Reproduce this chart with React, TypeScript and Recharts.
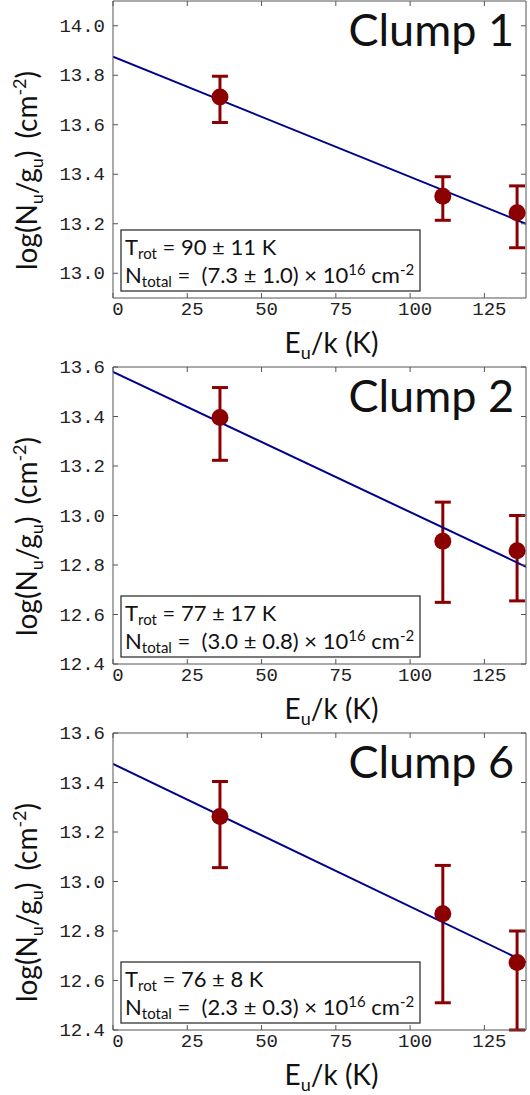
import React from "react";
import {
  ComposedChart,
  Scatter,
  Line,
  ErrorBar,
  XAxis,
  YAxis,
  Label,
} from "recharts";

// Upper-level energies (K) shared by all three clumps
const EU = [36, 111, 136];
const X_TICKS = [0, 25, 50, 75, 100, 125];
const X_MAX = 139;
const FIT_X = [0, 139];

// Clump 1
const CLUMP1_Y = [13.712, 13.311, 13.244];
const CLUMP1_LO = [0.103, 0.097, 0.141];
const CLUMP1_HI = [0.084, 0.079, 0.109];
const CLUMP1_FIT = [13.875, 13.2];
const CLUMP1_TICKS = [13.0, 13.2, 13.4, 13.6, 13.8, 14.0];

// Clump 2
const CLUMP2_Y = [13.396, 12.896, 12.858];
const CLUMP2_LO = [0.173, 0.247, 0.203];
const CLUMP2_HI = [0.121, 0.158, 0.142];
const CLUMP2_FIT = [13.58, 12.793];

// Clump 6
const CLUMP6_Y = [13.263, 12.87, 12.673];
const CLUMP6_LO = [0.207, 0.36, 0.273];
const CLUMP6_HI = [0.141, 0.195, 0.127];
const CLUMP6_FIT = [13.475, 12.674];

const LOW_TICKS = [12.4, 12.6, 12.8, 13.0, 13.2, 13.4, 13.6];

const FRAME = "#555";
const RED = "#8b0000";
const BLUE = "#00008b";
const MONO = "'Liberation Mono', 'DejaVu Sans Mono', monospace";
const SANS = "Lato, 'Open Sans', sans-serif";

const W = 530;
const H = 366; // vertical pitch between panels
const PAD_TOP = 14; // room above the plot so the top tick label is not cut
const CH = H + PAD_TOP;
const PLOT_H = 297;
// axes are 1px thick so that they get drawn; plot area = x 113..526
const MARGIN = { top: PAD_TOP, right: 3, bottom: CH - PAD_TOP - 1 - PLOT_H - 1, left: 112 };

const LeftTick = (p: any) => (
  <g>
    <line x1={p.x} y1={p.y} x2={p.x + 5} y2={p.y} stroke={FRAME} />
    <text x={p.x - 8} y={p.y + 6} textAnchor="end" fontFamily={MONO} fontSize={19} fill="#222">
      {Number(p.payload.value).toFixed(1)}
    </text>
  </g>
);

const RightTick = (p: any) => (
  <line x1={p.x} y1={p.y} x2={p.x - 5} y2={p.y} stroke={FRAME} />
);

const BottomTick = (p: any) => (
  <g>
    <line x1={p.x} y1={p.y} x2={p.x} y2={p.y - 5} stroke={FRAME} />
    <text x={p.x + 5} y={p.y + 17} textAnchor="middle" fontFamily={MONO} fontSize={19} fill="#222">
      {p.payload.value}
    </text>
  </g>
);

const TopTick = (p: any) => (
  <line x1={p.x} y1={p.y} x2={p.x} y2={p.y + 5} stroke={FRAME} />
);

const Dot = (p: any) => <circle cx={p.cx} cy={p.cy} r={8.5} fill={RED} />;

interface PanelProps {
  name: string;
  ys: number[];
  lo: number[];
  hi: number[];
  fit: number[];
  ticks: number[];
  pad: number;
  trot: string;
  ntot: string;
}

function Panel({ name, ys, lo, hi, fit, ticks, pad, trot, ntot }: PanelProps) {
  const points = EU.map((x, i) => ({ x, y: ys[i], err: [lo[i], hi[i]] }));
  const fitLine = FIT_X.map((x, i) => ({ x, y: fit[i] }));
  const domain: [number, number] = [ticks[0] - pad, ticks[ticks.length - 1] + pad];

  const yLabel = (props: any) => {
    const vb = props.viewBox;
    const cy = vb.y + vb.height / 2 + 21;
    return (
      <text
        transform={`translate(37, ${cy}) rotate(-90)`}
        textAnchor="middle"
        fontFamily={SANS}
        fontSize={28}
        fill="#111"
      >
        log(N<tspan fontSize={18} dy={6}>u</tspan>
        <tspan dy={-6}>/g</tspan>
        <tspan fontSize={18} dy={6}>u</tspan>
        <tspan dy={-6}>)</tspan>
        <tspan dx={12}>(cm</tspan>
        <tspan fontSize={18} dy={-11}>-2</tspan>
        <tspan dy={11}>)</tspan>
      </text>
    );
  };

  const xLabel = (props: any) => {
    const vb = props.viewBox;
    return (
      <text x={vb.x + vb.width / 2 + 12} y={vb.y + 55} textAnchor="middle" fontFamily={SANS} fontSize={28} fill="#111">
        E<tspan fontSize={18} dy={6}>u</tspan>
        <tspan dy={-6}>/k (K)</tspan>
      </text>
    );
  };

  const overlay = (props: any) => {
    const vb = props.viewBox;
    const left = vb.x;
    const right = vb.x + vb.width;
    const top = vb.y + vb.height;
    const bottom = top + PLOT_H;
    const boxTop = bottom - 68;
    return (
      <g>
        <text x={right - 12} y={top + 45} textAnchor="end" fontFamily={SANS} fontSize={45} fill="#111">
          {name}
        </text>
        <rect x={left + 8} y={boxTop} width={299} height={61} fill="#fff" stroke="#222" strokeWidth={1.2} />
        <text x={left + 12} y={boxTop + 25} fontFamily={SANS} fontSize={22} fill="#111">
          T<tspan fontSize={15} dy={4}>rot</tspan>
          <tspan dy={-4}> = {trot}</tspan>
        </text>
        <text x={left + 12} y={boxTop + 53} fontFamily={SANS} fontSize={22} fill="#111" style={{ whiteSpace: "pre" }}>
          N<tspan fontSize={15} dy={4}>total</tspan>
          <tspan dy={-4}>{" =  " + ntot + " × 10"}</tspan>
          <tspan fontSize={15} dy={-8}>16</tspan>
          <tspan dy={8}> cm</tspan>
          <tspan fontSize={15} dy={-8}>-2</tspan>
        </text>
      </g>
    );
  };

  return (
    <ComposedChart width={W} height={CH} margin={MARGIN}>
      <XAxis
        type="number"
        dataKey="x"
        domain={[0, X_MAX]}
        ticks={X_TICKS}
        allowDataOverflow
        height={1}
        tickSize={0}
        tickMargin={0}
        tickLine={false}
        tick={BottomTick}
        stroke={FRAME}
        interval={0}
      >
        <Label content={xLabel} />
      </XAxis>
      <XAxis
        xAxisId="top"
        orientation="top"
        type="number"
        dataKey="x"
        domain={[0, X_MAX]}
        ticks={X_TICKS}
        allowDataOverflow
        height={1}
        tickSize={0}
        tickMargin={0}
        tickLine={false}
        tick={TopTick}
        stroke={FRAME}
        interval={0}
      >
        <Label content={overlay} />
      </XAxis>
      <YAxis
        type="number"
        dataKey="y"
        domain={domain}
        ticks={ticks}
        allowDataOverflow
        width={1}
        tickSize={0}
        tickMargin={0}
        tickLine={false}
        tick={LeftTick}
        stroke={FRAME}
        interval={0}
      >
        <Label content={yLabel} />
      </YAxis>
      <YAxis
        yAxisId="right"
        orientation="right"
        type="number"
        domain={domain}
        ticks={ticks}
        allowDataOverflow
        width={1}
        tickSize={0}
        tickMargin={0}
        tickLine={false}
        tick={RightTick}
        stroke={FRAME}
        interval={0}
      />
      <Scatter data={points} dataKey="y" shape={Dot} isAnimationActive={false}>
        <ErrorBar dataKey="err" direction="y" width={8} strokeWidth={3} stroke={RED} isAnimationActive={false} />
      </Scatter>
      <Line data={fitLine} dataKey="y" stroke={BLUE} strokeWidth={2} dot={false} activeDot={false} isAnimationActive={false} />
    </ComposedChart>
  );
}

export default function App() {
  return (
    <div style={{ position: "absolute", left: 0, top: 0, width: W, height: 1095, overflow: "hidden", background: "#fff" }}>
      <div style={{ position: "absolute", left: 0, top: -PAD_TOP }}>
        <Panel name="Clump 1" ys={CLUMP1_Y} lo={CLUMP1_LO} hi={CLUMP1_HI} fit={CLUMP1_FIT} ticks={CLUMP1_TICKS}
          pad={0.1} trot="90 ± 11 K" ntot="(7.3 ± 1.0)" />
      </div>
      <div style={{ position: "absolute", left: 0, top: H - PAD_TOP }}>
        <Panel name="Clump 2" ys={CLUMP2_Y} lo={CLUMP2_LO} hi={CLUMP2_HI} fit={CLUMP2_FIT} ticks={LOW_TICKS}
          pad={0} trot="77 ± 17 K" ntot="(3.0 ± 0.8)" />
      </div>
      <div style={{ position: "absolute", left: 0, top: 2 * H - PAD_TOP }}>
        <Panel name="Clump 6" ys={CLUMP6_Y} lo={CLUMP6_LO} hi={CLUMP6_HI} fit={CLUMP6_FIT} ticks={LOW_TICKS}
          pad={0} trot="76 ± 8 K" ntot="(2.3 ± 0.3)" />
      </div>
    </div>
  );
}
